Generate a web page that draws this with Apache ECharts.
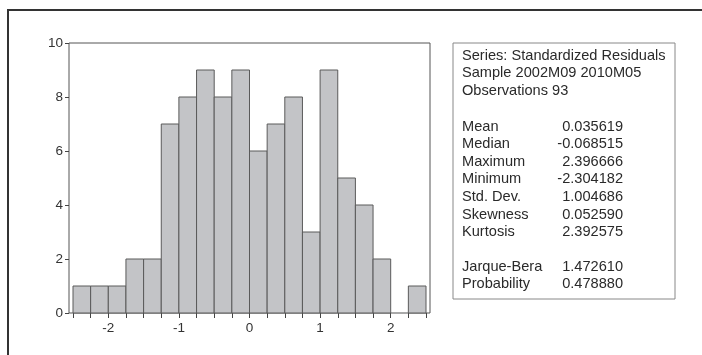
<!DOCTYPE html>
<html>
<head>
<meta charset="utf-8">
<script src="https://cdn.jsdelivr.net/npm/echarts@6/dist/echarts.min.js"></script>
<style>
  html, body { margin: 0; padding: 0; background: #fff; }
  #chart { width: 702px; height: 355px; }
</style>
</head>
<body>
<div id="chart"></div>
<script>
// histogram bins (lower edge) and counts
const binWidth = 0.25;
const binLower = [-2.5, -2.25, -2.0, -1.75, -1.5, -1.25, -1.0, -0.75, -0.5, -0.25,
                  0.0, 0.25, 0.5, 0.75, 1.0, 1.25, 1.5, 1.75, 2.0, 2.25];
const counts = [1, 1, 1, 2, 2, 7, 8, 9, 8, 9, 6, 7, 8, 3, 9, 5, 4, 2, 0, 1];

// stats box text
const headerLines = ["Series: Standardized Residuals", "Sample 2002M09 2010M05", "Observations 93"];
const statNames = ["Mean", "Median", "Maximum", "Minimum", "Std. Dev.", "Skewness", "Kurtosis"];
const statValues = ["0.035619", "-0.068515", "2.396666", "-2.304182", "1.004686", "0.052590", "2.392575"];
const testNames = ["Jarque-Bera", "Probability"];
const testValues = ["1.472610", "0.478880"];

const chart = echarts.init(document.getElementById("chart"));
const font = "Liberation Sans, Arial, sans-serif";
const boxFont = "14.6px " + font;

const histData = binLower.map((x, i) => [x, x + binWidth, counts[i]]);

// text for the stats panel
const textEls = [];
const lineH = 17.6;
const textX = 462, valX = 623;
headerLines.forEach((t, i) => {
  textEls.push({ type: "text", left: textX, top: 48 + i * lineH,
    style: { text: t, font: boxFont, fill: "#2a2a2a" } });
});
statNames.forEach((t, i) => {
  const y = 119 + i * lineH;
  textEls.push({ type: "text", left: textX, top: y,
    style: { text: t, font: boxFont, fill: "#2a2a2a" } });
  textEls.push({ type: "text", x: valX, y: y,
    style: { text: statValues[i], font: boxFont, fill: "#2a2a2a", textAlign: "right", textVerticalAlign: "top" } });
});
testNames.forEach((t, i) => {
  const y = 259 + i * lineH;
  textEls.push({ type: "text", left: textX, top: y,
    style: { text: t, font: boxFont, fill: "#2a2a2a" } });
  textEls.push({ type: "text", x: valX, y: y,
    style: { text: testValues[i], font: boxFont, fill: "#2a2a2a", textAlign: "right", textVerticalAlign: "top" } });
});

const option = {
  backgroundColor: "#fff",
  animation: false,
  grid: [
    // frame grid (slightly wider than the data range)
    { left: 69, right: 272, top: 43, bottom: 42, show: true,
      borderColor: "#555", borderWidth: 1, backgroundColor: "transparent" },
    // data grid
    { left: 73, right: 276, top: 43, bottom: 42 }
  ],
  xAxis: [
    { gridIndex: 0, type: "value", show: false, min: 0, max: 1 },
    {
      gridIndex: 1, type: "value", min: -2.5, max: 2.5, interval: 0.25,
      axisLine: { show: false },
      axisTick: { show: true, length: 5, lineStyle: { color: "#444" } },
      splitLine: { show: false },
      axisLabel: {
        color: "#333", fontSize: 13.5, fontFamily: font, margin: 8,
        formatter: v => (Math.abs(v - Math.round(v)) < 1e-9 ? String(Math.round(v)) : "")
      }
    }
  ],
  yAxis: [
    {
      gridIndex: 0, type: "value", min: 0, max: 10, interval: 2,
      axisLine: { show: false },
      axisTick: { show: true, length: 4, lineStyle: { color: "#444" } },
      splitLine: { show: false },
      axisLabel: { color: "#333", fontSize: 13.5, fontFamily: font, margin: 6 }
    },
    { gridIndex: 1, type: "value", min: 0, max: 10, show: false }
  ],
  series: [
    {
      type: "custom",
      xAxisIndex: 1,
      yAxisIndex: 1,
      data: histData,
      encode: { x: [0, 1], y: 2 },
      renderItem: (params, api) => {
        const p0 = api.coord([api.value(0), 0]);
        const p1 = api.coord([api.value(1), api.value(2)]);
        if (api.value(2) === 0) return;
        return {
          type: "rect",
          shape: { x: p0[0], y: p1[1], width: p1[0] - p0[0], height: p0[1] - p1[1] },
          style: { fill: "#c3c4c7", stroke: "#5a5a5a", lineWidth: 1 }
        };
      }
    }
  ],
  graphic: [
    // outer frame (left and top edges)
    { type: "polyline", shape: { points: [[8, 355], [8, 10], [702, 10]] },
      style: { stroke: "#333", lineWidth: 2, fill: null } },
    // stats box
    { type: "rect", shape: { x: 453, y: 43, width: 222, height: 256 },
      style: { fill: "#fff", stroke: "#888", lineWidth: 1 } }
  ].concat(textEls)
};

chart.setOption(option);
</script>
</body>
</html>
